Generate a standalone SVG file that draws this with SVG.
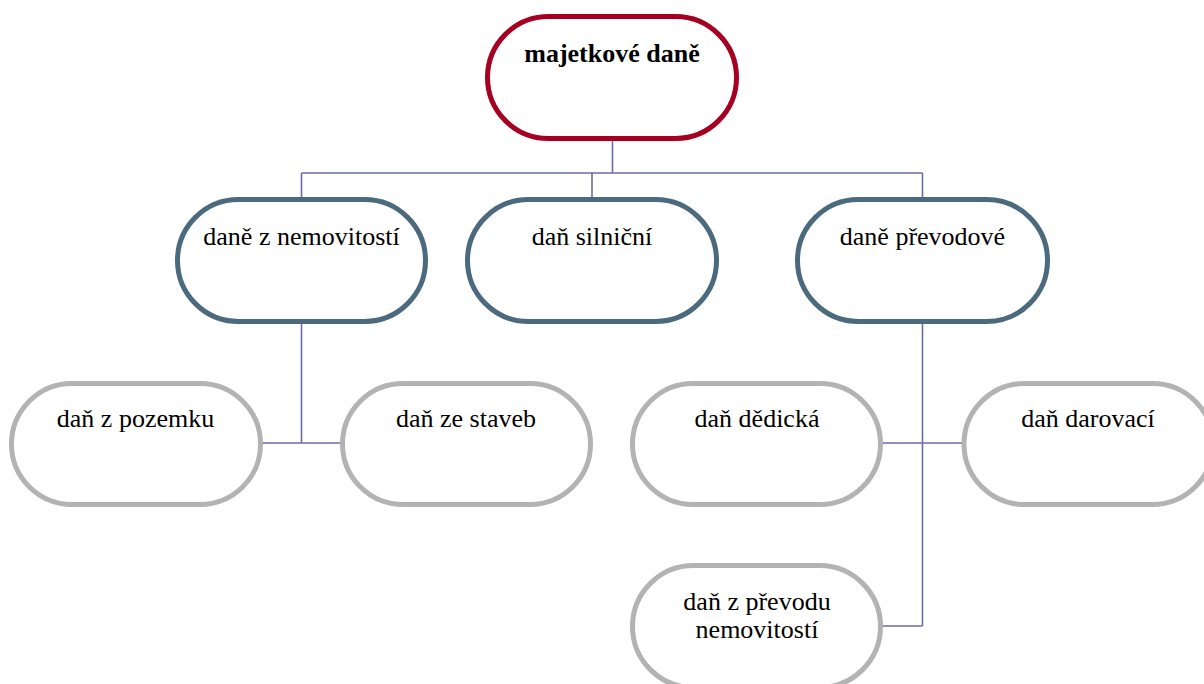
<svg xmlns="http://www.w3.org/2000/svg" width="1204" height="684" viewBox="0 0 1204 684">
<style>
.n rect{fill:#fff;stroke-width:5}
.l1 rect{stroke:#A50021}
.l2 rect{stroke:#4B6A7E}
.l3 rect{stroke:#B3B3B3}
text{font-family:"Liberation Serif","Times New Roman",serif;font-size:26px;fill:#000;text-anchor:middle}
.b{font-weight:bold}
#connectors path{fill:none;stroke:#6E6CA6;stroke-width:1.6}
</style>
<rect width="1204" height="684" fill="#fff"/>
<g id="connectors">
<path d="M612.5,138.5V173M301.5,173H922.5M301.5,173V199.5M592,173V199.5M922.5,173V199.5"/>
<path d="M301.5,321.5V443M262,443H342"/>
<path d="M922.5,321.5V626M882,443H963M882,626H922.5"/>
</g>
<g id="n-majetkove" class="n l1"><rect x="487.5" y="16.5" width="249" height="122" rx="61"/><text class="b" x="612" y="62">majetkové daně</text></g>
<g id="n-nemovitosti" class="n l2"><rect x="177.5" y="199.5" width="248" height="122" rx="61"/><text x="301.5" y="245">daně z nemovitostí</text></g>
<g id="n-silnicni" class="n l2"><rect x="467.5" y="199.5" width="249" height="122" rx="61"/><text x="592" y="245">daň silniční</text></g>
<g id="n-prevodove" class="n l2"><rect x="797.5" y="199.5" width="250" height="122" rx="61"/><text x="922.5" y="245">daně převodové</text></g>
<g id="n-pozemek" class="n l3"><rect x="11.5" y="383.5" width="249" height="121" rx="60.5"/><text x="135.5" y="427">daň z pozemku</text></g>
<g id="n-stavby" class="n l3"><rect x="342.5" y="383.5" width="248" height="121" rx="60.5"/><text x="466" y="427">daň ze staveb</text></g>
<g id="n-dedicka" class="n l3"><rect x="632.5" y="383.5" width="248" height="121" rx="60.5"/><text x="757" y="427">daň dědická</text></g>
<g id="n-darovaci" class="n l3"><rect x="964" y="383.5" width="249" height="121" rx="60.5"/><text x="1088" y="427">daň darovací</text></g>
<g id="n-prevod" class="n l3"><rect x="632.5" y="565.5" width="248" height="122" rx="61"/><text x="757" y="610">daň z převodu</text><text x="757" y="638">nemovitostí</text></g>
</svg>
